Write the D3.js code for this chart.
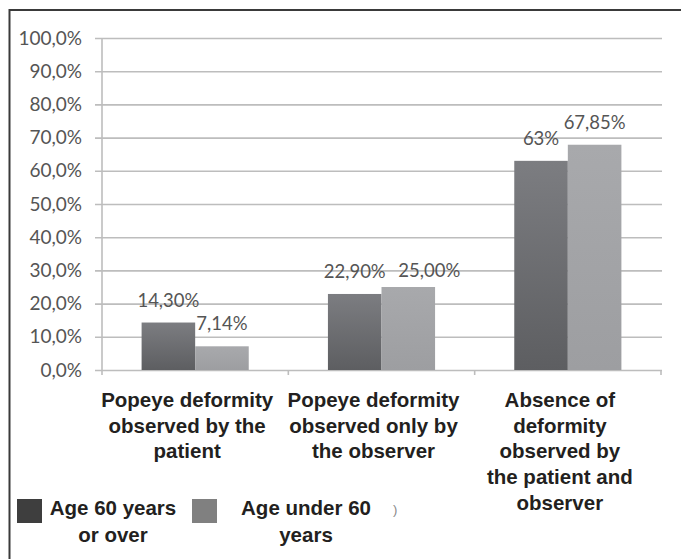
<!DOCTYPE html>
<html>
<head>
<meta charset="utf-8">
<script src="https://cdn.jsdelivr.net/npm/d3@7"></script>
<style>
  body { margin: 0; background: #fff; }
  svg { display: block; }
</style>
</head>
<body>
<script>
// valeurs
const categories = [
	"Popeye deformity\nobserved by the\npatient",
	"Popeye deformity\nobserved only by\nthe observer",
	"Absence of\ndeformity\nobserved by\nthe patient and\nobserver"
];
const seriesNames = ["Age 60 years or over", "Age under 60 years"];
const over60 = [14.3, 22.9, 63];
const under60 = [7.14, 25.0, 67.85];
const over60Labels = ["14,30%", "22,90%", "63%"];
const under60Labels = ["7,14%", "25,00%", "67,85%"];
const yTicks = [0, 10, 20, 30, 40, 50, 60, 70, 80, 90, 100];
const legendLines = [["Age 60 years", "or over"], ["Age under 60", "years"]];

const WIDTH = 681;
const HEIGHT = 559;

const svg = d3
	.select("body")
	.append("svg")
	.attr("width", WIDTH)
	.attr("height", HEIGHT);

const defs = svg.append("defs");
const gradDark = defs.append("linearGradient").attr("id", "gDark").attr("x1", 0).attr("y1", 0).attr("x2", 0).attr("y2", 1);
gradDark.append("stop").attr("offset", "0%").attr("stop-color", "#7c7d81");
gradDark.append("stop").attr("offset", "100%").attr("stop-color", "#5d5e61");
const gradLight = defs.append("linearGradient").attr("id", "gLight").attr("x1", 0).attr("y1", 0).attr("x2", 0).attr("y2", 1);
gradLight.append("stop").attr("offset", "0%").attr("stop-color", "#a8a9ac");
gradLight.append("stop").attr("offset", "100%").attr("stop-color", "#9d9ea1");

// cadre
svg.append("path")
	.attr("d", `M9.5,${HEIGHT} L9.5,10 L${WIDTH},10`)
	.attr("fill", "none")
	.attr("stroke", "#3a3a3a")
	.attr("stroke-width", 2);

const x = d3.scaleBand()
	.domain(categories)
	.range([102, 661])
	.paddingInner(0.425)
	.paddingOuter(0.2125);

const x1 = d3.scaleBand()
	.domain(seriesNames)
	.range([0, x.bandwidth()]);

const y = d3.scaleLinear().domain([0, 100]).range([370, 38]);

const loc = d3.formatLocale({ decimal: ",", thousands: ".", grouping: [3], currency: ["", ""] });
const fmt = loc.format(".1f");

// axe y + grille
const yAxis = svg.append("g")
	.attr("transform", "translate(95,0)")
	.call(d3.axisLeft(y).tickValues(yTicks).tickSize(-567).tickPadding(13).tickFormat((d) => fmt(d) + "%"));
yAxis.select(".domain").remove();
yAxis.selectAll(".tick line").attr("stroke", "#bdbdbd").attr("stroke-width", 1.6);
yAxis.selectAll(".tick text")
	.attr("fill", "#555")
	.style("font-family", "Lato, 'Open Sans', sans-serif")
	.style("font-size", "19px");

svg.append("line")
	.attr("x1", 102).attr("x2", 102)
	.attr("y1", y(100)).attr("y2", y(0) + 5)
	.attr("stroke", "#bdbdbd").attr("stroke-width", 1.6);

// graduations entre catégories
const bounds = d3.range(categories.length + 1).map((i) => x.range()[0] + i * x.step());
svg.selectAll(".cat-tick")
	.data(bounds.slice(1))
	.enter()
	.append("line")
	.attr("x1", (d) => d).attr("x2", (d) => d)
	.attr("y1", y(0)).attr("y2", y(0) + 5)
	.attr("stroke", "#bdbdbd").attr("stroke-width", 1.6);

// barres
const rows = categories.map((c, i) => ({
	cat: c,
	vals: [
		{ s: seriesNames[0], v: over60[i], label: over60Labels[i], fill: "url(#gDark)", dx: 0, dy: 0 },
		{ s: seriesNames[1], v: under60[i], label: under60Labels[i], fill: "url(#gLight)", dx: 0, dy: 0 }
	]
}));
// l'étiquette "25,00%" a été déplacée à la main dans l'original
rows[1].vals[1].dx = 21;
rows[1].vals[1].dy = 6;

const groups = svg.selectAll(".grp")
	.data(rows)
	.enter()
	.append("g")
	.attr("transform", (d) => `translate(${x(d.cat)},0)`);

groups.selectAll("rect")
	.data((d) => d.vals)
	.enter()
	.append("rect")
	.attr("x", (d) => x1(d.s))
	.attr("width", x1.bandwidth())
	.attr("y", (d) => y(d.v))
	.attr("height", (d) => y(0) - y(d.v))
	.attr("fill", (d) => d.fill);

groups.selectAll("text")
	.data((d) => d.vals)
	.enter()
	.append("text")
	.attr("x", (d) => x1(d.s) + x1.bandwidth() / 2 + d.dx)
	.attr("y", (d) => y(d.v) - 16 + d.dy)
	.attr("text-anchor", "middle")
	.attr("fill", "#555")
	.style("font-family", "Lato, 'Open Sans', sans-serif")
	.style("font-size", "18.5px")
	.text((d) => d.label);

// étiquettes des catégories
const catLabels = svg.selectAll(".cat")
	.data(categories)
	.enter()
	.append("text")
	.attr("text-anchor", "middle")
	.attr("fill", "#231f20")
	.style("font-family", "'Liberation Sans', Arial, sans-serif")
	.style("font-weight", "bold")
	.style("font-size", "20.5px");

catLabels.each(function (c) {
	const cx = x(c) + x.bandwidth() / 2 - 8;
	c.split("\n").forEach((line, i) => {
		d3.select(this)
			.append("tspan")
			.attr("x", cx)
			.attr("y", 407 + i * 25.7)
			.text(line);
	});
});

// légende
const legendX = [17, 192];
const legendTextX = [113, 306];
const legendFill = ["#3e3e3e", "#808080"];
const legend = svg.selectAll(".leg")
	.data(legendLines)
	.enter()
	.append("g");

legend.append("rect")
	.attr("x", (d, i) => legendX[i])
	.attr("y", 499)
	.attr("width", 25)
	.attr("height", 24)
	.attr("fill", (d, i) => legendFill[i]);

legend.append("text")
	.attr("text-anchor", "middle")
	.attr("fill", "#231f20")
	.style("font-family", "'Liberation Sans', Arial, sans-serif")
	.style("font-weight", "bold")
	.style("font-size", "20.5px")
	.each(function (d, i) {
		d.forEach((line, j) => {
			d3.select(this)
				.append("tspan")
				.attr("x", legendTextX[i])
				.attr("y", 515 + j * 27)
				.text(line);
		});
	});

svg.append("text")
	.attr("x", 393)
	.attr("y", 514)
	.attr("fill", "#888")
	.style("font-family", "'Liberation Sans', Arial, sans-serif")
	.style("font-size", "13px")
	.text(")");
</script>
</body>
</html>
